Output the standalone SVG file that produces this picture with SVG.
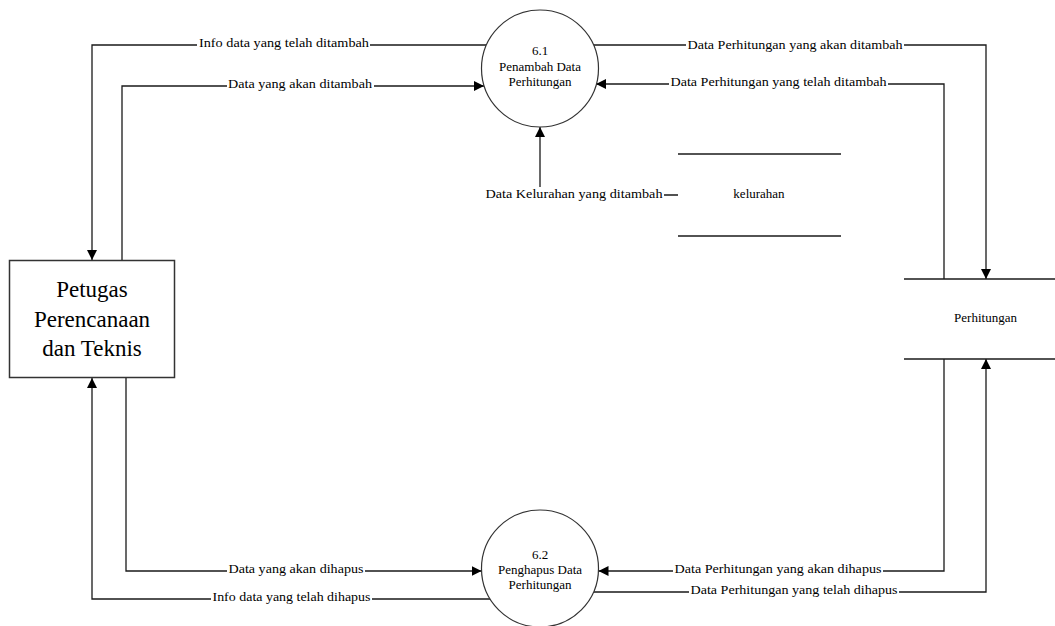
<svg xmlns="http://www.w3.org/2000/svg" width="1055" height="626" viewBox="0 0 1055 626" font-family="Liberation Serif, Times New Roman, serif">
<style>
.ln{fill:none;stroke:#1a1a1a;stroke-width:1.3}
.st{fill:none;stroke:#1a1a1a;stroke-width:1.3}
.bg{fill:#fff;stroke:none}
text{fill:#000;text-anchor:middle}
.lb{font-size:13px}
.pt{font-size:13px}
.bx{font-size:23px}
</style>
<defs>
<marker id="ah" viewBox="0 0 10 10" refX="10" refY="5" markerWidth="10" markerHeight="10" markerUnits="userSpaceOnUse" orient="auto">
<path d="M0,0 L10,5 L0,10 z" fill="#000"/>
</marker>
</defs>
<rect width="1055" height="626" fill="#fff"/>
<g id="connectors">
<path class="ln" d="M486 45 H92 V260" marker-end="url(#ah)"/>
<path class="ln" d="M122 260 V86 H484" marker-end="url(#ah)"/>
<path class="ln" d="M592 45 H986 V279" marker-end="url(#ah)"/>
<path class="ln" d="M944 279 V84 H596" marker-end="url(#ah)"/>
<path class="ln" d="M678 195 H540 V127" marker-end="url(#ah)"/>
<path class="ln" d="M126 378 V571 H481.5" marker-end="url(#ah)"/>
<path class="ln" d="M490 599 H92 V378" marker-end="url(#ah)"/>
<path class="ln" d="M944 359 V571 H598.5" marker-end="url(#ah)"/>
<path class="ln" d="M594 592 H986 V359" marker-end="url(#ah)"/>
<g id="labels">
<rect class="bg" x="197" y="37" width="173" height="14"/>
<text class="lb" x="284" y="47" textLength="170" lengthAdjust="spacingAndGlyphs">Info data yang telah ditambah</text>
<rect class="bg" x="227" y="78" width="147" height="14"/>
<text class="lb" x="300" y="88" textLength="144" lengthAdjust="spacingAndGlyphs">Data yang akan ditambah</text>
<rect class="bg" x="686" y="39" width="218" height="14"/>
<text class="lb" x="795" y="49" textLength="215" lengthAdjust="spacingAndGlyphs">Data Perhitungan yang akan ditambah</text>
<rect class="bg" x="669" y="76" width="219" height="14"/>
<text class="lb" x="778.5" y="86" textLength="216" lengthAdjust="spacingAndGlyphs">Data Perhitungan yang telah ditambah</text>
<rect class="bg" x="484" y="187" width="180" height="14"/>
<text class="lb" x="574" y="198" textLength="177" lengthAdjust="spacingAndGlyphs">Data Kelurahan yang ditambah</text>
<rect class="bg" x="227" y="563" width="138" height="14"/>
<text class="lb" x="296" y="573" textLength="135" lengthAdjust="spacingAndGlyphs">Data yang akan dihapus</text>
<rect class="bg" x="211" y="591" width="161" height="14"/>
<text class="lb" x="291.5" y="601" textLength="158" lengthAdjust="spacingAndGlyphs">Info data yang telah dihapus</text>
<rect class="bg" x="673" y="563" width="210" height="14"/>
<text class="lb" x="778" y="573" textLength="207" lengthAdjust="spacingAndGlyphs">Data Perhitungan yang akan dihapus</text>
<rect class="bg" x="689" y="584" width="210" height="14"/>
<text class="lb" x="794" y="594" textLength="207" lengthAdjust="spacingAndGlyphs">Data Perhitungan yang telah dihapus</text>
</g>
</g>
<g id="entity-petugas">
<rect x="9.5" y="260.5" width="165" height="117" fill="#fff" stroke="#333" stroke-width="1.5"/>
<text class="bx" x="92" y="297">Petugas</text>
<text class="bx" x="92" y="327">Perencanaan</text>
<text class="bx" x="92" y="356">dan Teknis</text>
</g>
<g id="process-6-1">
<circle cx="540" cy="68.5" r="58.5" fill="#fff" stroke="#333" stroke-width="1.2"/>
<text class="pt" x="540" y="55">6.1</text>
<text class="pt" x="540" y="71">Penambah Data</text>
<text class="pt" x="540" y="86">Perhitungan</text>
</g>
<g id="process-6-2">
<circle cx="540" cy="568.5" r="58.5" fill="#fff" stroke="#333" stroke-width="1.2"/>
<text class="pt" x="540" y="559">6.2</text>
<text class="pt" x="540" y="574">Penghapus Data</text>
<text class="pt" x="540" y="589">Perhitungan</text>
</g>
<g id="store-kelurahan">
<line class="st" x1="678" y1="154" x2="841" y2="154"/>
<line class="st" x1="678" y1="236" x2="841" y2="236"/>
<text class="lb" x="759" y="198">kelurahan</text>
</g>
<g id="store-perhitungan">
<line class="st" x1="904" y1="279" x2="1055" y2="279"/>
<line class="st" x1="904" y1="359" x2="1055" y2="359"/>
<text class="lb" x="985.5" y="322">Perhitungan</text>
</g>
</svg>
